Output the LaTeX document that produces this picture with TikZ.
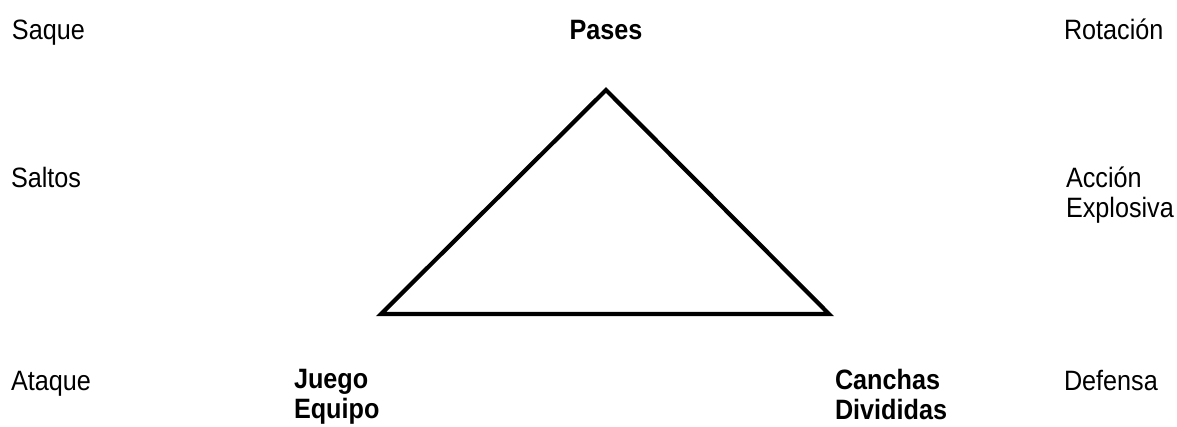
\documentclass[tikz,border=0pt]{standalone}
\usepackage{fontspec}
\setmainfont{Liberation Sans}[FakeStretch=0.9]
\begin{document}
\begin{tikzpicture}[x=1pt,y=-1pt,
  lbl/.style={inner sep=0pt, outer sep=0pt, font=\fontsize{28}{30}\selectfont},
  blbl/.style={lbl, font=\fontsize{28}{30}\selectfont\bfseries},
  tri/.style={line width=4.2pt, line join=miter}]
\useasboundingbox (0,0) rectangle (1177,426);
\fill[white] (0,0) rectangle (1177,426);
\node[lbl, anchor=base west] (saque) at (12,39) {Saque};
\node[blbl, anchor=base] (pases) at (606,39) {Pases};
\node[lbl, anchor=base west] (rot) at (1064,39) {Rotación};
\node[lbl, anchor=base west] (saltos) at (11,187) {Saltos};
\node[lbl, anchor=north west, align=left] (accion) at (1066,167) {Acción\\Explosiva};
\node[lbl, anchor=base west] (ataque) at (11,390) {Ataque};
\node[blbl, anchor=north west, align=left] (juego) at (294,369) {Juego\\Equipo};
\node[blbl, anchor=north west, align=left] (canchas) at (835,369) {Canchas\\Divididas};
\node[lbl, anchor=base west] (defensa) at (1064,390) {Defensa};
\coordinate (top) at (606,90);
\coordinate (bl) at (381,314);
\coordinate (br) at (829,314);
\draw[tri] (top) -- (bl) -- (br) -- cycle;
\end{tikzpicture}
\end{document}
